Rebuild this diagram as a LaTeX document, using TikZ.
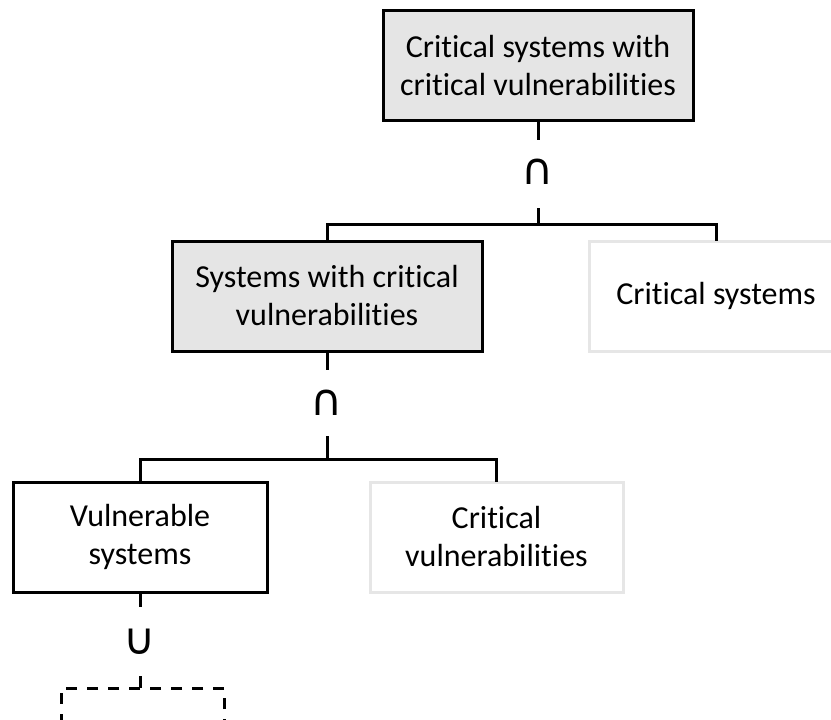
\documentclass[tikz,border=0pt]{standalone}
\usepackage{fontspec}
\setmainfont{Carlito}[Ligatures={NoCommon,NoContextual}]
\newfontfamily\symfont{DejaVu Sans}
\definecolor{shade}{HTML}{E5E5E5}
\definecolor{faint}{HTML}{E6E6E6}
\begin{document}
\begin{tikzpicture}[x=1pt,y=-1pt,
  every node/.style={font=\fontsize{32}{38}\selectfont, align=center, inner sep=0pt},
  setbox/.style={draw=black, line width=3pt, minimum width=#1, minimum height=110pt},
  darkbox/.style={setbox=#1, fill=shade},
  plainbox/.style={setbox=#1, fill=white},
  lightbox/.style={setbox=#1, draw=faint, line width=3pt, fill=white},
  openbox/.style={setbox=#1, dash pattern=on 11pt off 10pt},
  link/.style={line width=3pt, line cap=rect},
  op/.style={font=\symfont\fontsize{44}{48}\selectfont}]
\useasboundingbox (0,0) rectangle (831,720);

% set nodes
\node[darkbox=310pt]  (all)   at (538,65.5) {Critical systems with\\critical vulnerabilities};
\node[darkbox=310pt]  (swcv)  at (327,296)  {Systems with critical\\vulnerabilities};
\node[lightbox=254pt] (cs)    at (716,296)  {Critical systems};
\node[plainbox=254pt] (vs)    at (140,537)  {Vulnerable\\systems};
\node[lightbox=253pt] (cv)    at (496.5,537) {Critical\\vulnerabilities};
\node[openbox=163pt]  (more)  at (142.5,743) {};

% set operators
\node[op] (and1) at (538,172) {∩};
\node[op] (and2) at (327,403) {∩};
\node[op] (or1)  at (140,642) {∪};

% stubs around the operators
\coordinate (a1) at (538,138);
\coordinate (a2) at (538,209);
\coordinate (j1) at (538,224);
\coordinate (b1) at (327,368);
\coordinate (b2) at (327,437);
\coordinate (j2) at (327,459);
\coordinate (c1) at (140,605);
\coordinate (c2) at (140,677);

% top level: intersection of two sets
\draw[link] (all.south) -- (a1);
\draw[link] (a2) -- (j1);
\draw[link] (j1) -| (swcv.north);
\draw[link] (j1) -| (cs.north);

% second level
\draw[link] (swcv.south) -- (b1);
\draw[link] (b2) -- (j2);
\draw[link] (j2) -| (vs.north);
\draw[link] (j2) -| (cv.north);

% union below
\draw[link] (vs.south) -- (c1);
\draw[link] (c2) -- (c2 |- more.north);
\end{tikzpicture}
\end{document}
